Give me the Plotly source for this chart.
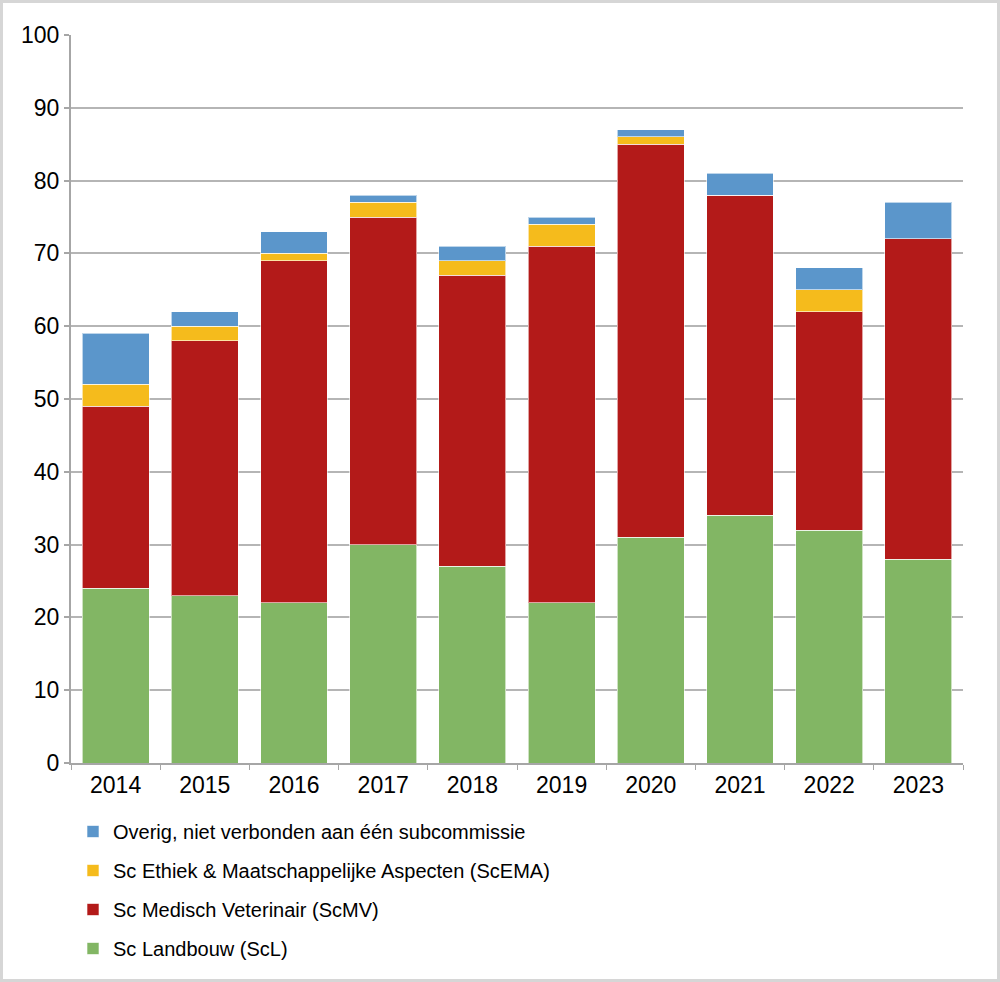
import plotly.graph_objects as go

years = ["2014", "2015", "2016", "2017", "2018", "2019", "2020", "2021", "2022", "2023"]
landbouw = [24, 23, 22, 30, 27, 22, 31, 34, 32, 28]
medisch = [25, 35, 47, 45, 40, 49, 54, 44, 30, 44]
ethiek = [3, 2, 1, 2, 2, 3, 1, 0, 3, 0]
overig = [7, 2, 3, 1, 2, 1, 1, 3, 3, 5]

series = [
    ("Sc Landbouw (ScL)", landbouw, "#82b664"),
    ("Sc Medisch Veterinair (ScMV)", medisch, "#b31a19"),
    ("Sc Ethiek & Maatschappelijke Aspecten (ScEMA)", ethiek, "#f5bb1c"),
    ("Overig, niet verbonden aan één subcommissie", overig, "#5b96cb"),
]

fig = go.Figure()
for i, (name, vals, col) in enumerate(series):
    fig.add_trace(go.Bar(
        x=years, y=vals, name=name, legendgroup=f"g{i}",
        legendrank=len(series) - i,
        marker=dict(color=col, line=dict(color="rgba(255,255,255,0.6)", width=1)),
    ))

W, H = 1000, 982
ml, mr, mt, mb = 71, 37, 35, 219
pw, ph = W - ml - mr, H - mt - mb

def px2x(px):
    return (px - ml) / pw

def py2y(py):
    return (H - mb - py) / ph

fig.update_layout(
    width=W, height=H,
    margin=dict(l=ml, r=mr, t=mt, b=mb),
    barmode="stack",
    bargap=0.25,
    paper_bgcolor="white",
    plot_bgcolor="white",
    font=dict(family="Liberation Sans, Arial, sans-serif", color="#000000"),
    showlegend=True,
    legend=dict(
        x=px2x(73), xanchor="left",
        y=py2y(812), yanchor="top",
        traceorder="grouped",
        tracegroupgap=10,
        font=dict(size=20),
        bgcolor="rgba(0,0,0,0)",
    ),
    xaxis=dict(
        showgrid=False,
        showline=True, linecolor="#a6a6a6", linewidth=2,
        ticks="outside", ticklen=5, tickcolor="#a6a6a6", tickwidth=1,
        tickson="boundaries",
        tickfont=dict(size=23),
    ),
    yaxis=dict(
        range=[0, 100], dtick=10,
        showgrid=True, gridcolor="#b5b5b5", gridwidth=2,
        showline=True, linecolor="#a6a6a6", linewidth=2,
        ticks="outside", ticklen=5, tickcolor="#a6a6a6", tickwidth=2,
        tickfont=dict(size=23),
        zeroline=False,
    ),
    shapes=[dict(
        type="rect", xref="paper", yref="paper",
        x0=px2x(1.5), x1=px2x(998.5), y0=py2y(980.5), y1=py2y(1.5),
        line=dict(color="#d6d6d6", width=3), fillcolor="rgba(0,0,0,0)",
        layer="below",
    )],
)

fig.write_html("out.html", config={"displayModeBar": False},
               post_script="document.body.style.margin='0';")
